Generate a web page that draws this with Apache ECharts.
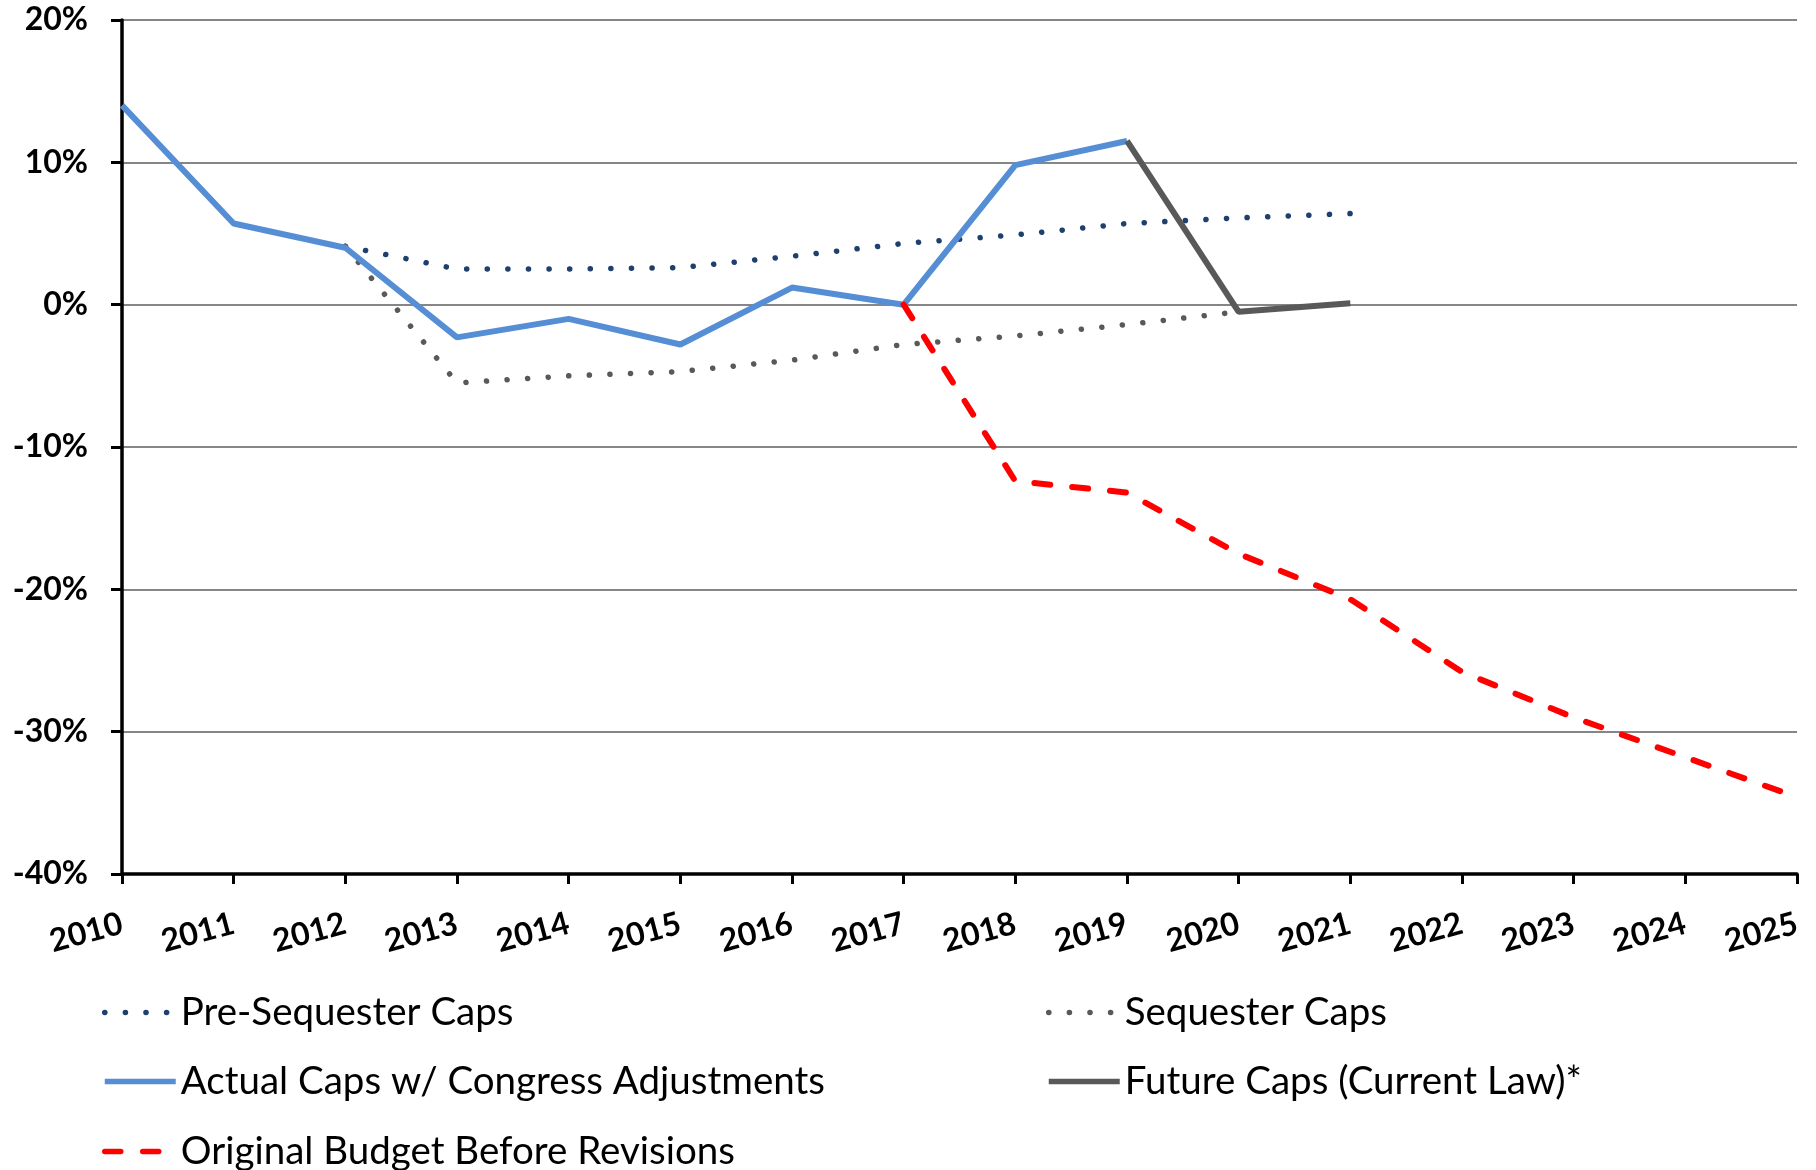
<!DOCTYPE html>
<html>
<head>
<meta charset="utf-8">
<script src="https://cdn.jsdelivr.net/npm/echarts@6/dist/echarts.min.js"></script>
<style>
html,body{margin:0;padding:0;background:#fff;}
#chart{width:1816px;height:1170px;}
</style>
</head>
<body>
<div id="chart"></div>
<script>
const years = ['2010','2011','2012','2013','2014','2015','2016','2017','2018','2019','2020','2021','2022','2023','2024','2025'];
const preSequester = [null, null, 4.1, 2.5, 2.5, 2.6, 3.4, 4.3, 4.9, 5.7, 6.1, 6.4, null, null, null, null];
const sequester    = [null, null, 4.1, -5.5, -5.0, -4.7, -3.9, -2.8, -2.2, -1.4, -0.5, null, null, null, null, null];
const actualCaps   = [14.0, 5.7, 4.0, -2.3, -1.0, -2.8, 1.2, 0.0, 9.8, 11.5, null, null, null, null, null, null];
const futureCaps   = [null, null, null, null, null, null, null, null, null, 11.5, -0.5, 0.1, null, null, null, null];
const original     = [null, null, null, null, null, null, null, 0.0, -12.4, -13.2, -17.5, -20.7, -25.8, -29.0, -31.8, -34.6];
const yTicks = { min: -40, max: 20, interval: 10 };

const names = ['Pre-Sequester Caps','Sequester Caps','Actual Caps w/ Congress Adjustments','Future Caps (Current Law)*','Original Budget Before Revisions'];

const FONT = 'Lato';
const legendText = { fontFamily: FONT, fontSize: 38.5, color: '#000' };
function lg(name, left, cy) {
  return {
    data: [name], left: left, top: cy - 20, padding: 0,
    itemWidth: 71, itemHeight: 20, textStyle: legendText,
    itemStyle: { opacity: 0 },
    lineStyle: { width: 5.5 },
    selectedMode: false
  };
}

const chart = echarts.init(document.getElementById('chart'), null, { renderer: 'canvas' });
chart.setOption({
  animation: false,
  backgroundColor: '#ffffff',
  grid: { left: 122, right: 19, top: 20, bottom: 296, containLabel: false, outerBoundsMode: 'none' },
  legend: [
    lg(names[0], 102, 1013),
    lg(names[1], 1046, 1013),
    lg(names[2], 102, 1082),
    lg(names[3], 1046, 1082),
    lg(names[4], 102, 1152)
  ],
  xAxis: {
    type: 'category', data: years, boundaryGap: false,
    axisLine: { show: true, onZero: false, lineStyle: { color: '#000', width: 3.5 } },
    axisTick: { show: true, length: 10, lineStyle: { color: '#000', width: 3 } },
    axisLabel: { rotate: 15, margin: 49, fontFamily: FONT, fontWeight: 'bold', fontSize: 32, color: '#000' },
    splitLine: { show: false }
  },
  yAxis: {
    type: 'value', min: yTicks.min, max: yTicks.max, interval: yTicks.interval,
    axisLine: { show: true, lineStyle: { color: '#000', width: 3.5 } },
    axisTick: { show: true, length: 11, lineStyle: { color: '#000', width: 3 } },
    axisLabel: { formatter: '{value}%', margin: 34, fontFamily: FONT, fontWeight: 'bold', fontSize: 32, color: '#000' },
    splitLine: { show: true, lineStyle: { color: '#868686', width: 2 } }
  },
  series: [
    { name: names[0], type: 'line', data: preSequester, symbol: 'none', connectNulls: false,
      lineStyle: { color: '#1F3F6E', width: 5.5, type: [0.1, 20.5], cap: 'round' }, itemStyle: { color: '#1F3F6E' }, z: 2 },
    { name: names[1], type: 'line', data: sequester, symbol: 'none',
      lineStyle: { color: '#595959', width: 5.5, type: [0.1, 20.5], cap: 'round' }, itemStyle: { color: '#595959' }, z: 2 },
    { name: names[2], type: 'line', data: actualCaps, symbol: 'none',
      lineStyle: { color: '#558ED5', width: 6 }, itemStyle: { color: '#558ED5' }, z: 3 },
    { name: names[3], type: 'line', data: futureCaps, symbol: 'none',
      lineStyle: { color: '#595959', width: 6 }, itemStyle: { color: '#595959' }, z: 4 },
    { name: names[4], type: 'line', data: original, symbol: 'none',
      lineStyle: { color: '#FF0000', width: 6, type: [16, 22], cap: 'round' }, itemStyle: { color: '#FF0000' }, z: 5 }
  ]
});
</script>
</body>
</html>
